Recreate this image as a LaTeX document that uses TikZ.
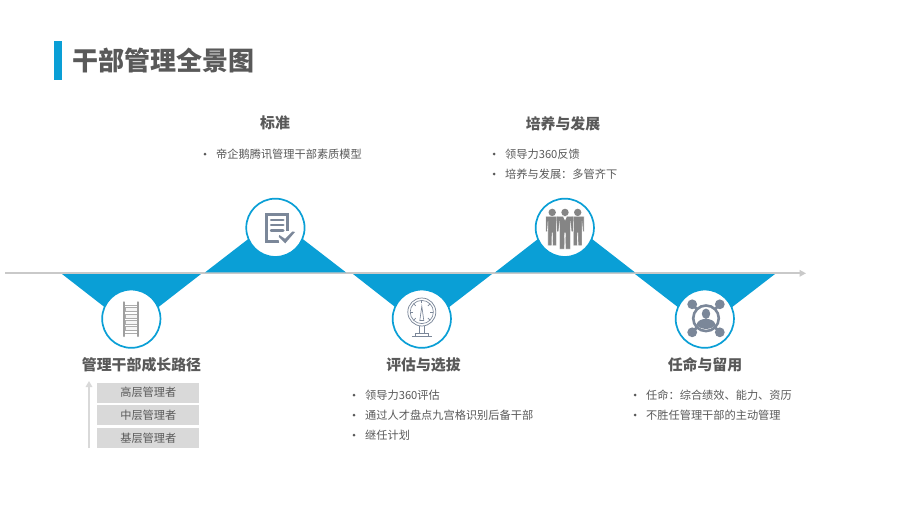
\documentclass[tikz,border=0pt]{standalone}
\usepackage{fontspec}
\setmainfont{Noto Sans CJK SC}
\usetikzlibrary{arrows.meta}
\definecolor{blue1}{HTML}{0A9FD6}
\definecolor{txt}{HTML}{595959}
\definecolor{line1}{HTML}{C9C9C9}
\definecolor{boxg}{HTML}{D9D9D9}
\definecolor{iconb}{HTML}{7B8799}
\definecolor{icong}{HTML}{858585}
\tikzset{
  x=1pt,y=-1pt,
  wedge/.style={fill=blue1,draw=none},
  disc/.style={circle,draw=blue1,fill=white,line width=1.7pt,minimum size=58.3pt,inner sep=0pt},
  head/.style={font=\fontsize{14.9}{16}\selectfont\bfseries,text=txt,inner sep=0pt},
  item/.style={font=\fontsize{11.2}{13}\selectfont,text=txt,inner sep=0pt,anchor=west},
  dot/.style={circle,fill=txt,minimum size=3pt,inner sep=0pt},
  level/.style={fill=boxg,draw=none,minimum width=102pt,minimum height=20pt,inner sep=0pt,font=\fontsize{11.2}{13}\selectfont,text=txt},
}
\newcommand{\bul}[3]{\node[dot] at (#1,#2) {}; \node[item] at (#1+11,#2) {#3};}
\newcommand{\person}[4]{% x, y head, half width, foot offset
  \begin{scope}[shift={(#1,#2)}]
  \fill[icong] (0,-.3) circle (3.7);
  \begin{scope}[xscale=#3]
  \fill[icong,draw=white,line width=.3pt,line join=round] (-1,3.6) -- (1,3.6) -- (1,19) -- (.78,19) -- (.66,8.5) -- (.66,#4) -- (.07,#4) -- (.04,20) -- (-.04,20) -- (-.07,#4) -- (-.66,#4) -- (-.66,8.5) -- (-.78,19) -- (-1,19) -- cycle;
  \end{scope}
  \end{scope}}
\begin{document}
\begin{tikzpicture}
\useasboundingbox (0,0) rectangle (901,509);
\fill[white] (0,0) rectangle (901,509);
% title
\fill[blue1] (54,41) rectangle (62,80);
\node[font=\fontsize{26}{30}\selectfont\bfseries,text=txt,inner sep=0pt,anchor=west] (title) at (72.6,61) {干部管理全景图};
% wedges
\fill[wedge] (62,274) -- (201,274) -- (131.5,328) -- cycle;
\fill[wedge] (353,274) -- (492,274) -- (422,328) -- cycle;
\fill[wedge] (635,274) -- (775,274) -- (705,328) -- cycle;
% timeline
\coordinate (tlA) at (5,273.3);
\coordinate (tlB) at (806,273.3);
\draw[line1,line width=2.2pt,-{Triangle[length=6.5pt,width=6.5pt]}] (tlA) -- (tlB);
\fill[wedge] (205,272.4) -- (346,272.4) -- (275.5,218) -- cycle;
\fill[wedge] (495,272.4) -- (635,272.4) -- (565,218) -- cycle;
% circles
\node[disc] (c1) at (131.3,318.7) {};
\node[disc] (c2) at (275.4,227.8) {};
\node[disc] (c3) at (421.8,318.7) {};
\node[disc] (c4) at (564.8,227.8) {};
\node[disc] (c5) at (704.8,318.7) {};
% ladder icon
\begin{scope}[shift={(131.3,318.7)}]
  \foreach \y in {-9,-2.7,3.6,9.9}{\draw[gray!65,line width=.8pt,fill=gray!8] (-6.4,\y-1.9) rectangle (6.4,\y+1.9);}
  \draw[gray!65,line width=1pt] (-7.4,-13.4) -- (7.4,-13.4) (-7.4,14.6) -- (7.4,14.6);
  \draw[gray!75,line width=1.9pt,line cap=round] (-7,-16.5) -- (-7,17.5) (7,-16.5) -- (7,17.5);
\end{scope}
% document icon
\begin{scope}[shift={(275.4,227.8)}]
  \draw[iconb,line width=3.1pt,line join=miter] (4,13.4) -- (-8.9,13.4) -- (-8.9,-13) -- (12.4,-13) -- (12.4,3);
  \foreach \y in {-7.8,-2.8,2.9}{\draw[iconb,line width=2.9pt,line cap=round] (-4.2,\y) -- (7.8,\y);}
  \fill[white] (1.5,6.2) -- (9.6,9) -- (17,0.5) -- (22,3) -- (10,18.5) -- (1.5,11) -- cycle;
  \fill[iconb] (3.9,7.2) -- (9.6,11) -- (17.2,3.6) -- (19.6,4.2) -- (9.8,15.6) -- (3.4,9) -- cycle;
\end{scope}
% gauge icon
\begin{scope}[shift={(421.8,318.7)},iconb,line width=.65pt]
  \draw[line width=.75pt] (0,-6.7) circle (14);
  \draw (0,-6.7) circle (11.6);
  \foreach \a in {-45,0,45,135,180,225,-90}{\draw (\a:8.6) ++(0,-6.7) -- ++(\a:3);}
  \draw (0,-12.5) -- (2,1.8) -- (-2,1.8) -- cycle;
  \draw (-2.4,7.3) -- (-2.4,14.5) (2.4,7.3) -- (2.4,14.5);
  \draw (-6.2,14.5) -- (6.2,14.5) (-10,18) -- (10,18);
  \draw (-6.2,14.5) -- (-6.2,18) (6.2,14.5) -- (6.2,18);
\end{scope}
% people icon
\person{552.2}{212.7}{6.4}{33}
\person{577.7}{212.7}{6.4}{33}
\person{565}{212.7}{8.2}{36.3}
\fill[white] (563,216.4) -- (567,216.4) -- (565,220.5) -- cycle;
% network icon
\begin{scope}[shift={(706,318.3)},iconb]
  \draw[line width=2.6pt] (0,0) circle (12.8);
  \foreach \a/\b in {-1/-1,1/-1,-1/1,1/1}{
    \fill (\a*13.8,\b*14) circle (4.9);
    \draw[line width=2.8pt] (\a*13.8,\b*14) -- (\a*9,\b*9);}
  \fill (0,-4.6) ellipse (4.2 and 5.2);
  \fill (-9.6,6.5) .. controls (-8.5,2) and (-4,.6) .. (0,.6) .. controls (4,.6) and (8.5,2) .. (9.6,6.5) .. controls (5,12) and (-5,12) .. (-9.6,6.5) -- cycle;
\end{scope}
% headings
\node[head] (h2) at (275,123) {标准};
\node[head] (h4) at (563,123.5) {培养与发展};
\node[head] (h1) at (141.5,364.5) {管理干部成长路径};
\node[head] (h3) at (423.5,364.5) {评估与选拔};
\node[head] (h5) at (705,364.5) {任命与留用};
% bullets
\bul{205}{154}{帝企鹅腾讯管理干部素质模型}
\bul{494}{154}{领导力360反馈}
\bul{494}{174}{培养与发展：多管齐下}
\bul{354}{395}{领导力360评估}
\bul{354}{415}{通过人才盘点九宫格识别后备干部}
\bul{354}{435}{继任计划}
\bul{635}{395}{任命：综合绩效、能力、资历}
\bul{635}{415}{不胜任管理干部的主动管理}
% levels
\node[level] (l1) at (148.3,392.5) {高层管理者};
\node[level] (l2) at (148.3,415) {中层管理者};
\node[level] (l3) at (148.3,438) {基层管理者};
\coordinate (upA) at (89,448);
\coordinate (upB) at (89,381);
\draw[boxg,line width=2.4pt,-{Triangle[length=6pt,width=6.5pt]}] (upA) -- (upB);
\end{tikzpicture}
\end{document}
